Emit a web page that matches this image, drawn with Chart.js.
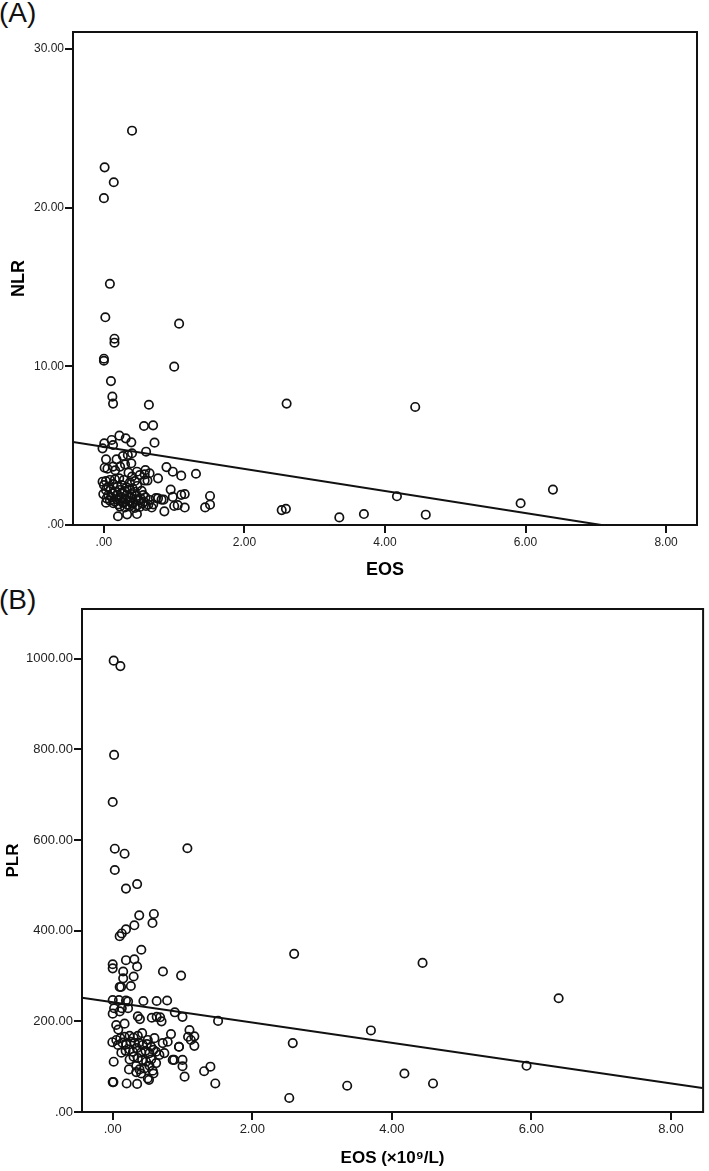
<!DOCTYPE html>
<html>
<head>
<meta charset="utf-8">
<script src="https://cdn.jsdelivr.net/npm/chart.js@4.4.1/dist/chart.umd.min.js"></script>
<style>
  html, body { margin: 0; padding: 0; background: #fff; }
  body { width: 709px; height: 1171px; position: relative; overflow: hidden; font-family: "Liberation Sans", Arial, sans-serif; }
  .panel { position: absolute; left: 0; width: 709px; }
  .lbl { position: absolute; font-family: "Liberation Sans", Arial, sans-serif; font-size: 28px; line-height: 1; color: #111; }
</style>
</head>
<body>
<div class="lbl" style="left:-1px; top:-1px;">(A)</div>
<div class="lbl" style="left:-1px; top:586px;">(B)</div>
<div class="panel" style="top:0; height:585px;"><canvas id="chartA"></canvas></div>
<div class="panel" style="top:585px; height:586px;"><canvas id="chartB"></canvas></div>
<script>
// ---------- Panel A: EOS vs NLR ----------
const eosA = [
  0.40, 0.01, 0.14, 0.00, 0.085, 0.02, 1.07, 0.15, 0.15, 0.00, 0.00, 1.00, 0.10, 0.12, 0.13, 0.64, 2.60, 0.57, 0.70, 4.43,
  2.53, 2.59, 3.35, 3.70, 4.17, 4.58, 5.93, 6.39,
  0.72, 0.60, 0.89, 0.98, 1.10, 1.31, 0.59, 0.58, 0.62, 0.95, 0.98, 1.10, 1.15, 1.51, 1.44, 1.51, 1.15, 0.86, 1.00, 1.05, 0.82, 0.85, 0.74, 0.77, 0.68, 0.20, 0.33, 0.47, 0.03,
  0.005, 0.11, 0.22, 0.31, 0.39, 0.13, -0.02, 0.03, 0.18, 0.27, 0.34, 0.40, 0.01, 0.13, 0.23, 0.30, 0.39, 0.47, 0.58, 0.65, 0.77, 0.05, 0.16, 0.35, 0.40, 0.51,
  -0.019, 0.028, 0.085, 0.157, 0.218, 0.285, 0.370, 0.441,
  0.000, 0.062, 0.133, 0.190, 0.252, 0.323, 0.408, 0.474,
  0.028, 0.095, 0.157, 0.228, 0.299, 0.370, 0.441, 0.536,
  -0.009, 0.062, 0.123, 0.190, 0.256, 0.323, 0.394, 0.465, 0.560,
  0.038, 0.109, 0.180, 0.252, 0.313, 0.384, 0.455, 0.522, 0.593,
  0.085, 0.157, 0.228, 0.285, 0.361, 0.417, 0.489, 0.569, 0.655,
  0.133, 0.204, 0.266, 0.337, 0.408, 0.474, 0.550, 0.631, 0.702,
  0.228, 0.299, 0.370, 0.441, 0.512, 0.598
];
const nlr = [
  24.85, 22.54, 21.60, 20.60, 15.20, 13.09, 12.69, 11.74, 11.49, 10.48, 10.35, 9.98, 9.07, 8.09, 7.65, 7.58, 7.65, 6.24, 6.28, 7.44,
  0.94, 1.02, 0.48, 0.69, 1.81, 0.65, 1.37, 2.23,
  5.19, 4.62, 3.65, 3.36, 3.11, 3.23, 3.46, 2.80, 2.80, 2.23, 1.77, 1.90, 1.95, 1.83, 1.11, 1.28, 1.10, 0.86, 1.20, 1.25, 1.60, 1.60, 1.70, 1.68, 1.10, 0.55, 0.67, 0.69, 1.41,
  5.15, 5.36, 5.63, 5.46, 5.21, 5.04, 4.83, 4.14, 4.14, 4.35, 4.41, 4.52, 3.61, 3.68, 3.68, 3.82, 3.89, 3.36, 3.19, 3.26, 2.94, 3.55, 3.45, 3.30, 3.05, 3.15,
  2.73, 2.77, 2.84, 2.88, 2.94, 2.84, 2.69, 2.77,
  2.52, 2.42, 2.58, 2.42, 2.52, 2.37, 2.31, 2.46,
  2.21, 2.25, 2.10, 2.21, 2.14, 2.25, 2.10, 2.16,
  1.95, 1.89, 2.00, 1.89, 2.00, 1.89, 1.95, 1.83, 1.89,
  1.68, 1.75, 1.62, 1.75, 1.64, 1.73, 1.62, 1.68, 1.75,
  1.54, 1.47, 1.58, 1.41, 1.52, 1.43, 1.54, 1.47, 1.58,
  1.37, 1.30, 1.41, 1.28, 1.35, 1.24, 1.37, 1.28, 1.30,
  1.16, 1.10, 1.20, 1.08, 1.14, 1.20
];
const fitAx = [-0.44, 7.08];
const fitAy = [5.23, 0];

// ---------- Panel B: EOS vs PLR ----------
const eosB = [
  0.014, 0.11, 0.02, 0.00, 0.03, 0.17, 1.07, 0.03, 0.19, 0.35, 0.38, 0.59, 0.57, 0.31, 0.19, 0.13, 0.10, 0.41, 2.60, 0.00, 0.00, 0.19, 0.31, 0.35, 0.15, 0.15, 0.72, 0.98, 0.30, 0.10, 0.12, 0.26,
  2.53, 2.58, 3.36, 3.70, 4.18, 4.44, 4.59, 5.93, 6.39,
  0.00, 0.09, 0.19, 0.22, 0.44, 0.63, 0.78, 0.02, 0.13, 0.22, 0.00, 0.10, 0.89, 1.00, 1.51, 0.36, 0.39, 0.56, 0.63, 0.68, 0.70, 0.05, 0.17, 0.08,
  1.10, 1.08, 1.17, 1.12, 0.95, 1.17, 0.88, 1.00, 1.00, 1.03, 1.31, 1.40, 1.47,
  0.00, 0.01, 0.20, 0.35, 0.52,
  -0.005, 0.052, 0.109, 0.170, 0.242, 0.299, 0.360, 0.422, 0.503, 0.598, 0.717, 0.835,
  0.076, 0.138, 0.194, 0.256, 0.313, 0.375, 0.432, 0.489, 0.551, 0.622, 0.788,
  0.124, 0.185, 0.242, 0.290, 0.346, 0.408, 0.470, 0.527, 0.584, 0.669, 0.740,
  0.014, 0.242, 0.299, 0.360, 0.422, 0.479, 0.551, 0.622, 0.860,
  0.233, 0.337, 0.384, 0.455, 0.527, 0.574, 0.584, 0.950,
  0.337, 0.408, 0.503
];
const plr = [
  996, 984, 788, 684, 581, 570, 582, 534, 493, 503, 434, 437, 417, 412, 403, 394, 388, 358, 349, 326, 317, 335, 337, 321, 310, 295, 310, 301, 299, 276, 276, 278,
  31, 152, 58, 180, 85, 329, 63, 102, 251,
  247, 247, 246, 244, 245, 245, 246, 229, 229, 229, 217, 222, 220, 210, 201, 211, 205, 208, 210, 209, 200, 192, 195, 182,
  181, 166, 167, 159, 144, 146, 115, 115, 101, 78, 90, 100, 63,
  66, 66, 63, 62, 71,
  154, 159, 163, 166, 168, 164, 168, 174, 159, 163, 152, 172,
  148, 153, 149, 155, 152, 153, 148, 150, 144, 133, 155,
  131, 135, 138, 133, 141, 131, 135, 130, 137, 126, 130,
  111, 116, 122, 119, 115, 111, 116, 108, 115,
  94, 102, 94, 96, 102, 91, 85, 144,
  88, 85, 74
];
const fitBx = [-0.44, 8.45];
const fitBy = [252, 53];

// ---------- Axes ----------
const xTicks = [0, 2, 4, 6, 8];
const yTicksA = [0, 10, 20, 30];
const yTicksB = [0, 200, 400, 600, 800, 1000];
const xRangeA = [-0.44, 8.44];
const yRangeA = [0, 31.07];
const xRangeB = [-0.44, 8.46];
const yRangeB = [0, 1110];

const FONT = '"Liberation Sans", Arial, sans-serif';
const INK = '#111';

function fmt(v) { return v === 0 ? '.00' : Number(v).toFixed(2); }
function zip(xs, ys) { return xs.map((x, i) => ({ x: x, y: ys[i] })); }

const boxPlugin = {
  id: 'box',
  afterDatasetsDraw(chart) {
    const a = chart.chartArea, ctx = chart.ctx;
    ctx.save();
    ctx.strokeStyle = INK;
    ctx.lineWidth = 2;
    ctx.strokeRect(a.left, a.top, a.right - a.left, a.bottom - a.top);
    ctx.restore();
  }
};

function makeChart(id, cfg) {
  return new Chart(document.getElementById(id), {
    type: 'scatter',
    data: {
      datasets: [
        {
          data: zip(cfg.xs, cfg.ys),
          pointStyle: 'circle',
          pointRadius: 4.2,
          pointBorderWidth: 1.7,
          pointBorderColor: INK,
          pointBackgroundColor: 'rgba(0,0,0,0)',
          showLine: false
        },
        {
          type: 'line',
          data: zip(cfg.fx, cfg.fy),
          borderColor: INK,
          borderWidth: 2,
          pointRadius: 0,
          fill: false,
          tension: 0
        }
      ]
    },
    options: {
      responsive: true,
      maintainAspectRatio: false,
      animation: false,
      events: [],
      layout: { padding: cfg.pad },
      plugins: { legend: { display: false }, tooltip: { enabled: false } },
      scales: {
        x: {
          type: 'linear',
          min: cfg.xr[0], max: cfg.xr[1],
          afterBuildTicks: s => { s.ticks = xTicks.map(v => ({ value: v })); },
          afterFit: s => { s.height = cfg.xh; },
          grid: { display: true, drawOnChartArea: false, drawTicks: true, tickLength: 8, color: INK, lineWidth: 2 },
          border: { display: true, color: INK, width: 2 },
          ticks: { callback: fmt, color: '#222', font: { family: FONT, size: cfg.tickSize }, padding: 2, maxRotation: 0, autoSkip: false },
          title: { display: true, text: cfg.xTitle, color: '#000', font: { family: FONT, size: cfg.titleSize, weight: 'bold' }, padding: { top: 0, bottom: cfg.xtp } }
        },
        y: {
          type: 'linear',
          min: cfg.yr[0], max: cfg.yr[1],
          afterBuildTicks: s => { s.ticks = cfg.yTicks.map(v => ({ value: v })); },
          afterFit: s => { s.width = cfg.yw; },
          grid: { display: true, drawOnChartArea: false, drawTicks: true, tickLength: 8, color: INK, lineWidth: 2 },
          border: { display: true, color: INK, width: 2 },
          ticks: { callback: fmt, color: '#222', font: { family: FONT, size: cfg.tickSize }, padding: 1, autoSkip: false },
          title: { display: true, text: cfg.yTitle, color: '#000', font: { family: FONT, size: cfg.titleSize, weight: 'bold' }, padding: { top: cfg.ytp, bottom: 0 } }
        }
      }
    },
    plugins: [boxPlugin]
  });
}

makeChart('chartA', {
  xs: eosA, ys: nlr, fx: fitAx, fy: fitAy,
  xr: xRangeA, yr: yRangeA, yTicks: yTicksA,
  pad: { top: 32, right: 12, bottom: 0, left: 0 },
  yw: 73, xh: 60, tickSize: 12, titleSize: 18, xtp: 4, ytp: 8,
  xTitle: 'EOS', yTitle: 'NLR'
});

makeChart('chartB', {
  xs: eosB, ys: plr, fx: fitBx, fy: fitBy,
  xr: xRangeB, yr: yRangeB, yTicks: yTicksB,
  pad: { top: 24, right: 2, bottom: 0, left: 0 },
  yw: 82, xh: 59, tickSize: 13, titleSize: 17, xtp: 2, ytp: 3,
  xTitle: 'EOS (×10⁹/L)', yTitle: 'PLR'
});
</script>
</body>
</html>
